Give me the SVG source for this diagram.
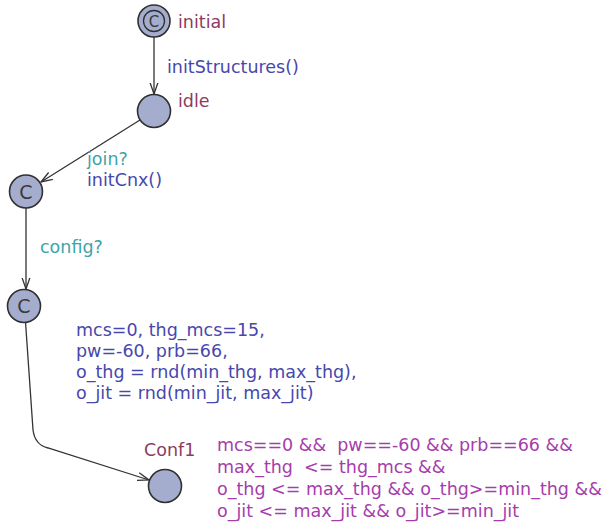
<svg xmlns="http://www.w3.org/2000/svg" width="611" height="527" viewBox="0 0 611 527">
<style>
text{font-family:"DejaVu Sans","Liberation Sans",sans-serif;font-size:17.5px}
.loc{fill:#a5adcf;stroke:#303030;stroke-width:1.6}
.ring{fill:none;stroke:#303030;stroke-width:1.3}
.c{fill:#3a3a3a;text-anchor:middle;font-size:19px}
.name{fill:#8e3b63}
.upd{fill:#4747ad}
.sync{fill:#3ea4a6}
.grd{fill:#a63cac}
.edge{fill:none;stroke:#333;stroke-width:1.3;marker-end:url(#arr)}
</style>
<defs>
<marker id="arr" viewBox="0 0 12 10" refX="11.5" refY="5" markerWidth="12" markerHeight="10" markerUnits="userSpaceOnUse" orient="auto">
<path d="M0,1 L11.5,5 L0,9" fill="none" stroke="#333" stroke-width="1.3"/>
</marker>
</defs>
<g id="connectors">
<path class="edge" d="M154,37 L154,94"/>
<path class="edge" d="M140,120 L41,182"/>
<path class="edge" d="M26,208 L26,289"/>
<path class="edge" d="M25.5,322 L33,430 Q35,445 48,448 L149,480"/>
</g>
<g id="initial">
<circle class="loc" cx="154" cy="21" r="16"/>
<circle class="ring" cx="154" cy="21" r="10.5"/>
<text class="c" x="154" y="26.5" style="font-size:15px">C</text>
<text class="name" x="178" y="28">initial</text>
</g>
<g id="idle">
<circle class="loc" cx="154" cy="111" r="16.5"/>
<text class="name" x="178" y="107">idle</text>
</g>
<g id="c1">
<circle class="loc" cx="26" cy="191.5" r="16.5"/>
<text class="c" x="26" y="198.5">C</text>
</g>
<g id="c2">
<circle class="loc" cx="24" cy="306" r="16.5"/>
<text class="c" x="24" y="313">C</text>
</g>
<g id="conf1">
<circle class="loc" cx="165" cy="486" r="16.5"/>
<text class="name" x="144" y="456">Conf1</text>
</g>
<g id="labels">
<text class="upd" x="167" y="73">initStructures()</text>
<text class="sync" x="87" y="165">join?</text>
<text class="upd" x="87" y="186">initCnx()</text>
<text class="sync" x="40" y="253">config?</text>
<text class="upd" x="76" y="336">mcs=0, thg_mcs=15,</text>
<text class="upd" x="76" y="357">pw=-60, prb=66,</text>
<text class="upd" x="76" y="378">o_thg = rnd(min_thg, max_thg),</text>
<text class="upd" x="76" y="399">o_jit = rnd(min_jit, max_jit)</text>
<text class="grd" x="217" y="451" xml:space="preserve">mcs==0 &amp;&amp;  pw==-60 &amp;&amp; prb==66 &amp;&amp;</text>
<text class="grd" x="217" y="473" xml:space="preserve">max_thg  &lt;= thg_mcs &amp;&amp;</text>
<text class="grd" x="217" y="495">o_thg &lt;= max_thg &amp;&amp; o_thg&gt;=min_thg &amp;&amp;</text>
<text class="grd" x="217" y="517">o_jit &lt;= max_jit &amp;&amp; o_jit&gt;=min_jit</text>
</g>
</svg>
